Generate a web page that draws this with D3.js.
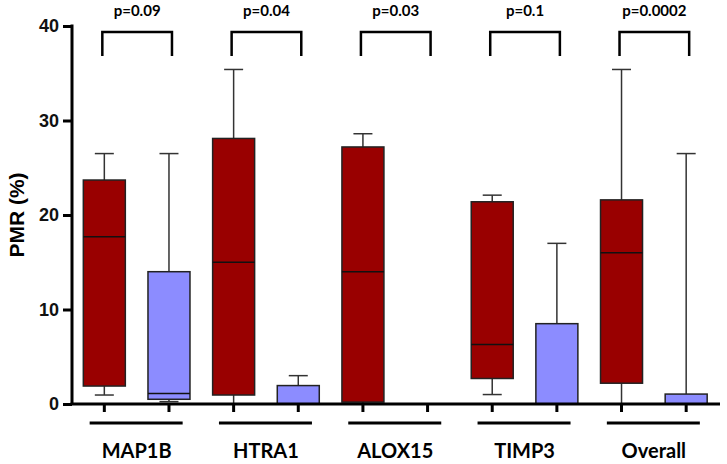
<!DOCTYPE html>
<html><head><meta charset="utf-8">
<script src="https://cdn.jsdelivr.net/npm/d3@7"></script>
<style>html,body{margin:0;padding:0;background:#fff;}svg{display:block;}</style>
</head><body>
<script>
const categories = ["MAP1B", "HTRA1", "ALOX15", "TIMP3", "Overall"];
const pValues = ["p=0.09", "p=0.04", "p=0.03", "p=0.1", "p=0.0002"];
const yTicks = [0, 10, 20, 30, 40];
// red group (left box)
const redMin = [0.95, 0, 0, 1.0, 0];
const redQ1  = [1.9, 0.95, 0.2, 2.7, 2.2];
const redMed = [17.7, 15.0, 14.0, 6.3, 16.0];
const redQ3  = [23.7, 28.1, 27.2, 21.4, 21.6];
const redMax = [26.5, 35.4, 28.6, 22.1, 35.4];
// blue group (right box)
const blueMin = [0.25, 0, 0, 0, 0];
const blueQ1  = [0.5, 0, 0, 0, 0];
const blueMed = [1.1, 0, 0, 0, 0];
const blueQ3  = [14.0, 1.95, 0, 8.5, 1.05];
const blueMax = [26.5, 3.0, 0, 17.0, 26.5];

const W = 727, H = 464;
const svg = d3.select("body").append("svg").attr("width", W).attr("height", H);

const x = d3.scaleBand().domain(categories).range([72, 718.5]).padding(0);
const y = d3.scaleLinear().domain([0, 40]).range([404, 26]);
const step = x.bandwidth();
const boxW = 42, capW = 19;

const boxes = [];
categories.forEach((c, i) => {
  const cx = x(c) + step / 2;
  boxes.push({cx: cx - step / 4, min: redMin[i], q1: redQ1[i], med: redMed[i], q3: redQ3[i], max: redMax[i], fill: "#990000"});
  boxes.push({cx: cx + step / 4, min: blueMin[i], q1: blueQ1[i], med: blueMed[i], q3: blueQ3[i], max: blueMax[i], fill: "#8c8cff"});
});

const g = svg.append("g");
// whiskers
boxes.forEach(b => {
  if (b.max > b.q3) {
    g.append("line").attr("x1", b.cx).attr("x2", b.cx).attr("y1", y(b.q3)).attr("y2", y(b.max)).attr("stroke", "#333").attr("stroke-width", 1.5);
    g.append("line").attr("x1", b.cx - capW / 2).attr("x2", b.cx + capW / 2).attr("y1", y(b.max)).attr("y2", y(b.max)).attr("stroke", "#333").attr("stroke-width", 1.5);
  }
  if (b.q1 > b.min) {
    g.append("line").attr("x1", b.cx).attr("x2", b.cx).attr("y1", y(b.q1)).attr("y2", y(b.min)).attr("stroke", "#333").attr("stroke-width", 1.5);
    if (b.min > 0)
      g.append("line").attr("x1", b.cx - capW / 2).attr("x2", b.cx + capW / 2).attr("y1", y(b.min)).attr("y2", y(b.min)).attr("stroke", "#333").attr("stroke-width", 1.5);
  }
});
// boxes
boxes.forEach(b => {
  if (b.q3 > b.q1) {
    g.append("rect").attr("x", b.cx - boxW / 2).attr("y", y(b.q3)).attr("width", boxW).attr("height", y(b.q1) - y(b.q3))
      .attr("fill", b.fill).attr("stroke", "#222").attr("stroke-width", 1.5);
    if (b.med > b.q1)
      g.append("line").attr("x1", b.cx - boxW / 2).attr("x2", b.cx + boxW / 2).attr("y1", y(b.med)).attr("y2", y(b.med)).attr("stroke", "#111").attr("stroke-width", 1.5);
  }
});

// y axis
const yAxis = svg.append("g").attr("transform", "translate(72,0)")
  .call(d3.axisLeft(y).tickValues(yTicks).tickSize(9).tickPadding(4).tickFormat(d3.format("d")));
yAxis.select(".domain").attr("d", `M0,${y(40) - 1.5}V${y(0)}`).attr("stroke", "#000").attr("stroke-width", 3);
yAxis.selectAll(".tick line").attr("stroke", "#000").attr("stroke-width", 3);
yAxis.selectAll(".tick text").attr("font-family", "Liberation Sans, Arial, sans-serif").attr("font-weight", "bold").attr("font-size", 18).attr("fill", "#111");

// x axis
svg.append("line").attr("x1", 70.5).attr("x2", 720).attr("y1", y(0)).attr("y2", y(0)).attr("stroke", "#000").attr("stroke-width", 3);
boxes.forEach(b => {
  svg.append("line").attr("x1", b.cx).attr("x2", b.cx).attr("y1", y(0)).attr("y2", y(0) + 8).attr("stroke", "#000").attr("stroke-width", 3);
});

// underlines, labels, brackets, p-values
categories.forEach((c, i) => {
  const cx = x(c) + step / 2;
  svg.append("line").attr("x1", cx - 47).attr("x2", cx + 46).attr("y1", 423).attr("y2", 423).attr("stroke", "#000").attr("stroke-width", 3);
  svg.append("text").attr("x", cx).attr("y", 458).attr("text-anchor", "middle")
    .attr("font-family", "Lato, sans-serif").attr("font-weight", "bold").attr("font-size", 20).attr("fill", "#000").text(c);
  const x1 = cx - step / 4 - 2, x2 = cx + step / 4 + 3;
  svg.append("path").attr("d", `M${x1},56V32H${x2}V56`).attr("fill", "none").attr("stroke", "#000").attr("stroke-width", 2.5);
  svg.append("text").attr("x", (x1 + x2) / 2).attr("y", 16).attr("text-anchor", "middle")
    .attr("font-family", "Lato, sans-serif").attr("font-weight", "bold").attr("font-size", 15).attr("fill", "#000").text(pValues[i]);
});

// y label
svg.append("text").attr("transform", "translate(24,215) rotate(-90)").attr("text-anchor", "middle")
  .attr("font-family", "Liberation Sans, Arial, sans-serif").attr("font-weight", "bold").attr("font-size", 21).attr("fill", "#000").text("PMR (%)");
</script>
</body></html>
